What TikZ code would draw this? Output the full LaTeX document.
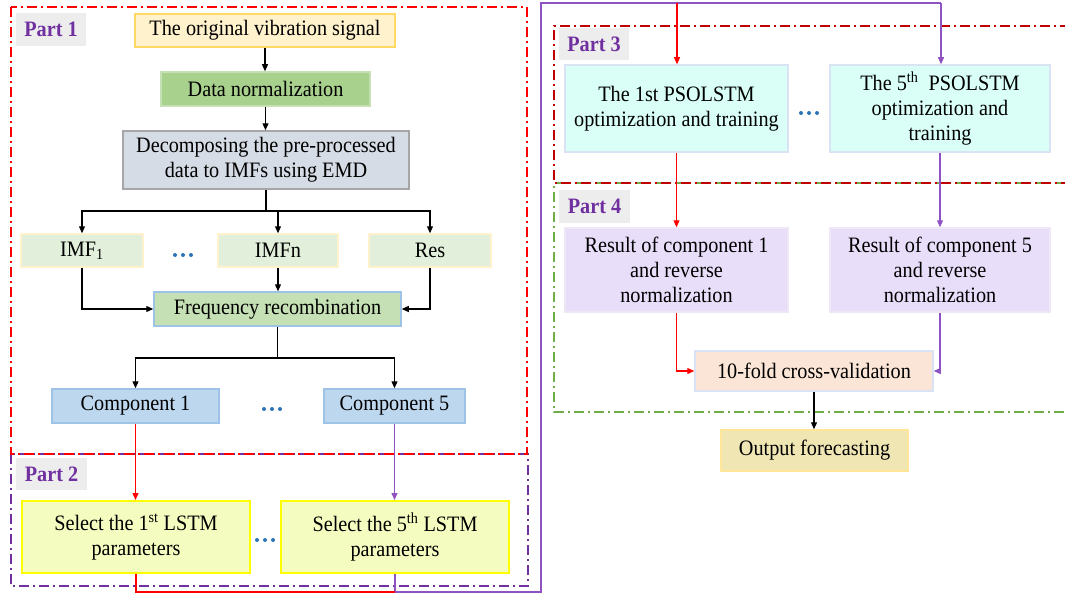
\documentclass[tikz,border=0pt]{standalone}
\usepackage{fontspec}
\setmainfont{Liberation Serif}[FakeStretch=0.92]
\usetikzlibrary{arrows.meta}
\definecolor{pRed}{HTML}{FF0000}
\definecolor{pDarkRed}{HTML}{C00000}
\definecolor{pPurple}{HTML}{7030A0}
\definecolor{pGreen}{HTML}{70AD47}
\definecolor{cPurple}{HTML}{8E52C2}
\definecolor{labGray}{HTML}{EDEDED}
\definecolor{dotBlue}{HTML}{2E75B6}
\definecolor{origFill}{HTML}{FFF2CC}
\definecolor{origLine}{HTML}{FFD966}
\definecolor{dnFill}{HTML}{A9D18E}
\definecolor{dnLine}{HTML}{C5E0B4}
\definecolor{decFill}{HTML}{D6DCE5}
\definecolor{decLine}{HTML}{A6A6A6}
\definecolor{imfFill}{HTML}{E2EFDA}
\definecolor{imfLine}{HTML}{FFF2CC}
\definecolor{freqFill}{HTML}{C5E0B4}
\definecolor{blueLine}{HTML}{9DC3E6}
\definecolor{compFill}{HTML}{BDD7EE}
\definecolor{selFill}{HTML}{F4FCC0}
\definecolor{selLine}{HTML}{FFFF00}
\definecolor{psoFill}{HTML}{D9FFF7}
\definecolor{psoLine}{HTML}{DAE3F3}
\definecolor{resFill}{HTML}{E8DEFA}
\definecolor{resLine}{HTML}{EEE8F6}
\definecolor{tenFill}{HTML}{FBE5D6}
\definecolor{outFill}{HTML}{F0E6B4}
\definecolor{outLine}{HTML}{FFE699}
\tikzset{
  box/.style={draw, line width=1.5pt, align=center, inner sep=0pt,
    font=\fontsize{22}{25}\selectfont, text=black},
  partlab/.style={fill=labGray, text=pPurple, inner sep=0pt,
    font=\bfseries\fontsize{22}{25}\selectfont},
  frame/.style={line width=1.6pt, dash pattern=on 10pt off 4pt on 2pt off 4pt},
  conn/.style={line width=1.2pt, -{Triangle[length=7pt,width=6pt]}},
  plain/.style={line width=1.2pt},
}
\begin{document}
\begin{tikzpicture}[x=1pt,y=-1pt]
\useasboundingbox (0,0) rectangle (1065,594);
\fill[white] (0,0) rectangle (1065,594);

% ---------- frames ----------
\draw[frame, pPurple] (11,454) rectangle (528,586);
\draw[frame, pRed] (11,7) rectangle (527,454);
\draw[frame, pGreen] (1065,183) -- (554,183) -- (554,412) -- (1065,412);
\draw[frame, pDarkRed, dash phase=6pt] (1065,183) -- (554,183) -- (554,26) -- (1065,26);

% ---------- part labels ----------
\node[partlab, minimum width=70pt, minimum height=33pt] (lab1) at (51,29.5) {Part 1};
\node[partlab, minimum width=71pt, minimum height=32pt] (lab2) at (51.5,474) {Part 2};
\node[partlab, minimum width=70pt, minimum height=32pt] (lab3) at (594,44) {Part 3};
\node[partlab, minimum width=71pt, minimum height=33pt] (lab4) at (594.5,206.5) {Part 4};

% ---------- Part 1 ----------
\node[box, fill=origFill, draw=origLine, minimum width=260pt, minimum height=33pt] (orig) at (265,30.5) {The original vibration signal};
\node[box, fill=dnFill, draw=dnLine, minimum width=209pt, minimum height=34pt] (dn) at (265.5,89) {Data normalization};
\node[box, fill=decFill, draw=decLine, minimum width=286pt, minimum height=58pt] (dec) at (266,160) {Decomposing the pre-processed\\data to IMFs using EMD};
\node[box, fill=imfFill, draw=imfLine, minimum width=122pt, minimum height=33pt] (imf1) at (82,250.5) {IMF\textsubscript{1}};
\node[box, fill=imfFill, draw=imfLine, minimum width=120pt, minimum height=33pt] (imfn) at (278,250.5) {IMFn};
\node[box, fill=imfFill, draw=imfLine, minimum width=122pt, minimum height=33pt] (res) at (430,250.5) {Res};
\node[box, fill=freqFill, draw=blueLine, minimum width=247pt, minimum height=34pt] (freq) at (277.5,309) {Frequency recombination};
\node[box, fill=compFill, draw=blueLine, minimum width=167pt, minimum height=34pt] (comp1) at (135.5,406) {Component 1};
\node[box, fill=compFill, draw=blueLine, minimum width=141pt, minimum height=34pt] (comp5) at (394.5,406) {Component 5};

% ---------- Part 2 ----------
\node[box, fill=selFill, draw=selLine, line width=2pt, minimum width=228pt, minimum height=72pt] (sel1) at (136,537) {Select the 1\textsuperscript{st} LSTM\\parameters};
\node[box, fill=selFill, draw=selLine, line width=2pt, minimum width=228pt, minimum height=72pt] (sel5) at (395,537) {Select the 5\textsuperscript{th} LSTM\\parameters};

% ---------- Part 3 ----------
\node[box, fill=psoFill, draw=psoLine, minimum width=223pt, minimum height=87pt] (pso1) at (676.5,108.5) {The 1st PSOLSTM\\optimization and training};
\node[box, fill=psoFill, draw=psoLine, minimum width=220pt, minimum height=87pt] (pso5) at (940,108.5) {The 5\textsuperscript{th}\ \ PSOLSTM\\optimization and\\training};

% ---------- Part 4 ----------
\node[box, fill=resFill, draw=resLine, minimum width=223pt, minimum height=84pt] (res1) at (676.5,270) {Result of component 1\\and reverse\\normalization};
\node[box, fill=resFill, draw=resLine, minimum width=220pt, minimum height=84pt] (res5) at (940,270) {Result of component 5\\and reverse\\normalization};
\node[box, fill=tenFill, draw=psoLine, minimum width=238pt, minimum height=40pt] (ten) at (814,371) {10-fold cross-validation};
\node[box, fill=outFill, draw=outLine, minimum width=187pt, minimum height=41pt] (out) at (814.5,450.5) {Output forecasting};

% ---------- dots ----------
\foreach \cx/\cy in {183/255, 272/409, 265/540, 809/113}{
  \foreach \dx in {-8,0,8}{
    \fill[dotBlue] (\cx+\dx,\cy) circle (2pt);
  }
}

% ---------- connectors Part 1 ----------
\coordinate (b1) at (266,211);
\coordinate (b2) at (278,358);
\draw[conn] (orig.south) -- (orig.south |- dn.north);
\draw[conn] (dn.south) -- (dn.south |- dec.north);
\draw[plain] (dec.south) -- (b1);
\draw[conn] (b1) -| (imf1.north);
\draw[conn] (b1) -| (imfn.north);
\draw[conn] (b1) -| (res.north);
\draw[conn] (imf1.south) |- (freq.west);
\draw[conn] (res.south) |- (freq.east);
\draw[conn] (imfn.south) -- (imfn.south |- freq.north);
\draw[plain] (freq.south) -- (freq.south |- b2);
\draw[conn] (b2) -| (comp1.north);
\draw[conn] (b2) -| (comp5.north);

% ---------- coloured connectors ----------
\draw[conn, pRed] (comp1.south) -- (comp1.south |- sel1.north);
\draw[conn, cPurple] (comp5.south) -- (comp5.south |- sel5.north);
\coordinate (rb) at (136,592);
\coordinate (jn) at (395,592);
\coordinate (pb) at (541,592);
\coordinate (pt) at (541,3);
\coordinate (p5) at (941,3);
\coordinate (r3) at (677,3);
\draw[plain, cPurple] (sel5.south) -- (jn) -- (pb) -- (pt) -- (p5);
\draw[conn, cPurple] (p5) -- (p5 |- pso5.north);
\draw[plain, pRed] (sel1.south) -- (rb) -- (jn);
\draw[conn, pRed] (r3) -- (r3 |- pso1.north);
\draw[conn, pRed] (pso1.south) -- (pso1.south |- res1.north);
\draw[conn, cPurple] (pso5.south) -- (pso5.south |- res5.north);
\draw[conn, pRed] (res1.south) |- (ten.west);
\draw[conn, cPurple] (res5.south) |- (ten.east);
\draw[conn] (ten.south) -- (ten.south |- out.north);
\end{tikzpicture}
\end{document}
